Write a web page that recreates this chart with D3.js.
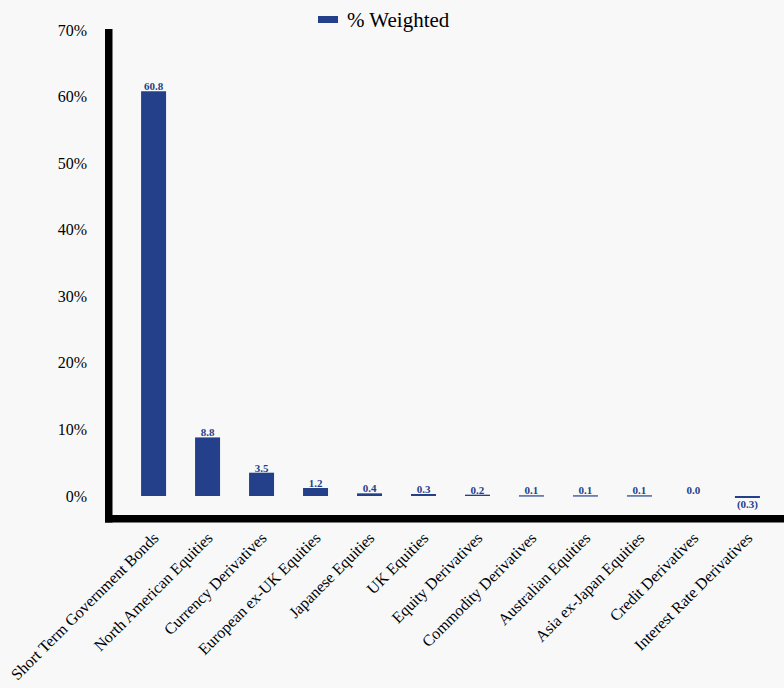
<!DOCTYPE html>
<html>
<head>
<meta charset="utf-8">
<script src="https://cdn.jsdelivr.net/npm/d3@7"></script>
<style>
  body { margin: 0; background: #f8f8f8; }
  svg { display: block; font-family: "Liberation Serif", "Times New Roman", serif; }
</style>
</head>
<body>
<svg width="784" height="688"></svg>
<script>
const categories = [
  "Short Term Government Bonds",
  "North American Equities",
  "Currency Derivatives",
  "European ex-UK Equities",
  "Japanese Equities",
  "UK Equities",
  "Equity Derivatives",
  "Commodity Derivatives",
  "Australian Equities",
  "Asia ex-Japan Equities",
  "Credit Derivatives",
  "Interest Rate Derivatives"
];
const weights = [60.8, 8.8, 3.5, 1.2, 0.4, 0.3, 0.2, 0.1, 0.1, 0.1, 0.0, -0.3];
const yTicks = [0, 10, 20, 30, 40, 50, 60, 70];
const seriesName = "% Weighted";
const barColor = "#25408a";

const svg = d3.select("svg");

// plot area: 0% sits at y=496, 70% at y=30
var y = d3.scaleLinear().domain([0, 70]).range([496, 30]);
var x = d3.scaleBand().domain(categories).range([126.5, 774.5]).paddingInner(0.537).paddingOuter(0.27);

// y tick labels
svg.append("g")
  .selectAll("text")
  .data(yTicks)
  .enter()
  .append("text")
  .attr("x", 87)
  .attr("y", d => y(d))
  .attr("dy", "0.35em")
  .attr("text-anchor", "end")
  .style("font-size", "16px")
  .text(d => d + "%");

// bars
svg.append("g")
  .selectAll("rect")
  .data(weights)
  .enter()
  .append("rect")
  .attr("x", (d, i) => x(categories[i]))
  .attr("y", d => y(Math.max(0, d)))
  .attr("width", x.bandwidth())
  .attr("height", d => d == 0 ? 0 : Math.max(Math.abs(y(d) - y(0)), 1.2))
  .attr("fill", barColor);

// value labels
svg.append("g")
  .selectAll("text")
  .data(weights)
  .enter()
  .append("text")
  .attr("x", (d, i) => x(categories[i]) + x.bandwidth() / 2)
  .attr("y", d => d < 0 ? y(d) + 10 : Math.min(y(d), y(0) - 1.2) - 1)
  .attr("text-anchor", "middle")
  .style("font-size", "11px")
  .style("font-weight", "bold")
  .attr("fill", barColor)
  .text(d => d < 0 ? "(" + Math.abs(d).toFixed(1) + ")" : d.toFixed(1));

// category labels
svg.append("g")
  .selectAll("text")
  .data(categories)
  .enter()
  .append("text")
  .attr("transform", d => "translate(" + (x(d) + x.bandwidth() / 2 + 6) + ",539) rotate(-45)")
  .attr("text-anchor", "end")
  .style("font-size", "16px")
  .text(d => d);

// heavy axis lines
svg.append("line")
  .attr("x1", 108.75).attr("x2", 108.75)
  .attr("y1", 29).attr("y2", 522.5)
  .attr("stroke", "#000").attr("stroke-width", 7.5);
svg.append("line")
  .attr("x1", 105).attr("x2", 784)
  .attr("y1", 518.75).attr("y2", 518.75)
  .attr("stroke", "#000").attr("stroke-width", 7.5);

// legend
var lg = svg.append("g").attr("transform", "translate(318,16)");
lg.append("rect").attr("width", 20).attr("height", 7).attr("fill", barColor);
lg.append("text")
  .attr("x", 29)
  .attr("y", 11)
  .style("font-size", "21px")
  .text(seriesName);
</script>
</body>
</html>
